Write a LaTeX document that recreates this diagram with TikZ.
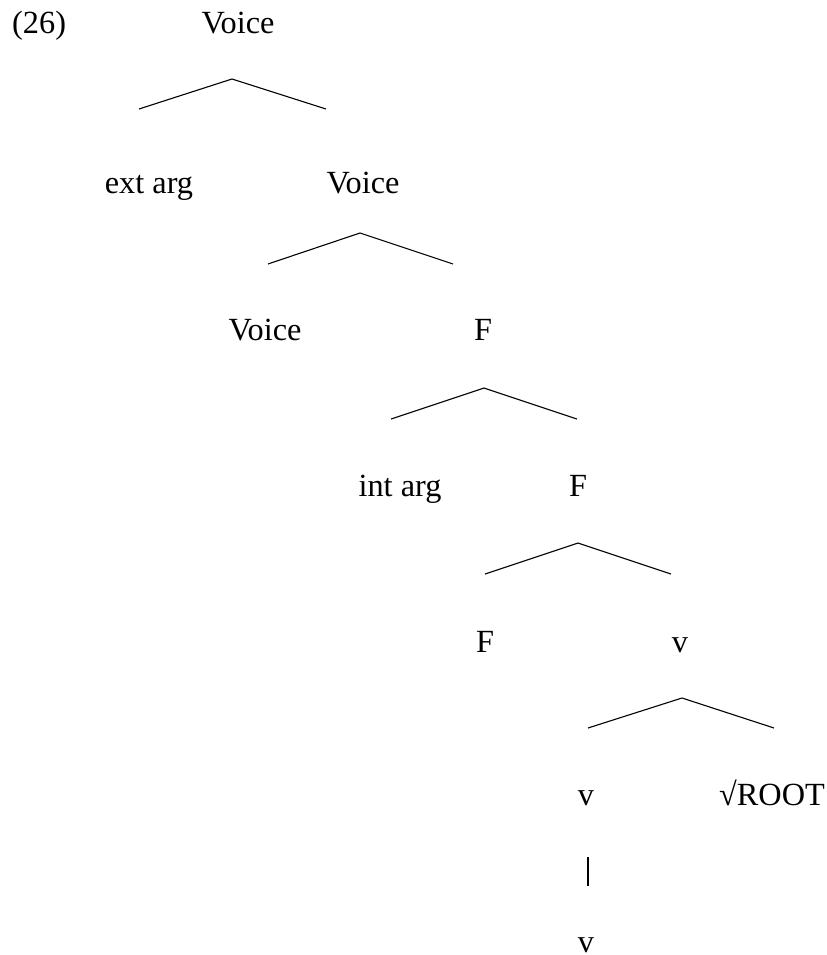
\documentclass[tikz,border=0pt]{standalone}
\usepackage{fontspec}
\setmainfont{Liberation Serif}
\begin{document}
\begin{tikzpicture}[x=1bp,y=-1bp,
  lab/.style={inner sep=0pt,anchor=base,font=\fontsize{32.3bp}{39bp}\selectfont},
  branch/.style={line width=1.1bp,line cap=butt,line join=miter}]
\useasboundingbox (0,0) rectangle (827,955);
% labels
\node[lab,anchor=base west] (ex) at (12,33) {(26)};
\node[lab] (voice1) at (238,33) {Voice};
\node[lab] (ext) at (149,193) {ext arg};
\node[lab] (voice2) at (363,193) {Voice};
\node[lab] (voice3) at (265,340) {Voice};
\node[lab] (f1) at (483,340) {F};
\node[lab] (int) at (400,496) {int arg};
\node[lab] (f2) at (578,496) {F};
\node[lab] (f3) at (485,652) {F};
\node[lab] (v1) at (680,652) {v};
\node[lab] (v2) at (586,805) {v};
\node[lab] (root) at (772,805) {√ROOT};
\node[lab] (v3) at (586,952) {v};
% branch coordinates
\coordinate (a1) at (232,79);  \coordinate (l1) at (139,109); \coordinate (r1) at (326,109);
\coordinate (a2) at (360,233); \coordinate (l2) at (268,264); \coordinate (r2) at (453,264);
\coordinate (a3) at (484,388); \coordinate (l3) at (391,419); \coordinate (r3) at (577,419);
\coordinate (a4) at (578,543); \coordinate (l4) at (485,574); \coordinate (r4) at (671,574);
\coordinate (a5) at (682,698); \coordinate (l5) at (588,728); \coordinate (r5) at (774,728);
\coordinate (bt) at (588,857);  \coordinate (bb) at (588,886);
\draw[branch] (l1) -- (a1) -- (r1);
\draw[branch] (l2) -- (a2) -- (r2);
\draw[branch] (l3) -- (a3) -- (r3);
\draw[branch] (l4) -- (a4) -- (r4);
\draw[branch] (l5) -- (a5) -- (r5);
\draw[branch] (bt) -- (bb);
\end{tikzpicture}
\end{document}
